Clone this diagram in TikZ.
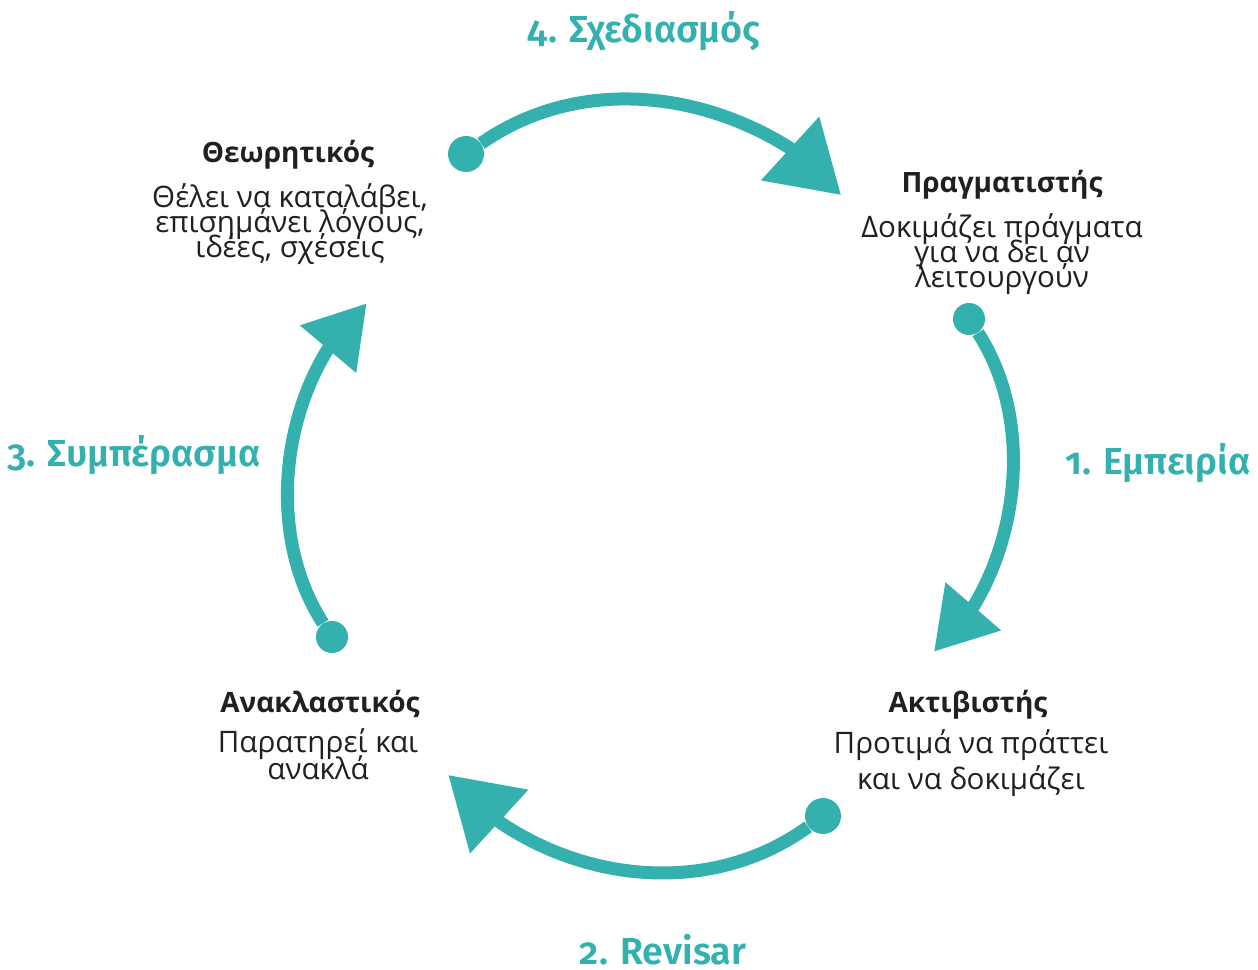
\documentclass[tikz,border=0pt]{standalone}
\usepackage{fontspec}
\setmainfont{Open Sans}
\newfontfamily\stagefont[Numbers=OldStyle]{Fira Sans SemiBold}
\usetikzlibrary{arrows.meta}

\newlength{\du}
\setlength{\du}{0.5pt}
\setlength{\lineskiplimit}{-50pt}

\definecolor{cyclecolor}{HTML}{34B0AF}
\definecolor{rolecolor}{HTML}{231F20}

\tikzset{
  flowline/.style={line width=6.5pt, draw=cyclecolor, line join=round, looseness=0.93},
  bigtip/.style={-{Triangle[length=34.5pt,width=41.5pt]}},
  smalltip/.style={-{Triangle[length=30pt,width=35pt]}},
  bigdot/.style={circle, fill=cyclecolor, inner sep=0pt, minimum size=18pt},
  smalldot/.style={circle, fill=cyclecolor, inner sep=0pt, minimum size=16pt},
  stagelabel/.style={anchor=base, inner sep=0pt, text=cyclecolor, font=\stagefont\fontsize{18.8}{22}\selectfont},
  roletitle/.style={anchor=base, inner sep=0pt, text=rolecolor, font=\bfseries\fontsize{14}{16}\selectfont},
  roletext/.style={anchor=base, inner sep=0pt, align=center, text=rolecolor, font=\fontsize{14.8}{12.5}\selectfont},
}

\begin{document}
\begin{tikzpicture}
\useasboundingbox (0\du,0\du) rectangle (1258\du,969\du);
% dots
\node[bigdot] (d1) at (466\du,815\du) {};
\node[smalldot] (d2) at (969\du,650\du) {};
\node[bigdot] (d3) at (823\du,153\du) {};
\node[smalldot] (d4) at (332\du,332\du) {};
% arrow heads
\coordinate (b1) at (789\du,821.5\du);
\coordinate (t1) at (841\du,774\du);
\coordinate (b2) at (974\du,363.5\du);
\coordinate (t2) at (934\du,317.3\du);
\coordinate (b3) at (500.2\du,146.5\du);
\coordinate (t3) at (448.3\du,194\du);
\coordinate (b4) at (327.3\du,619\du);
\coordinate (t4) at (366.7\du,665.7\du);
% cycle
\draw[flowline,bigtip] (d1) to[out=35,in=148] (b1) -- (t1);
\draw[flowline,smalltip,looseness=0.88] (d2) to[out=-57,in=59] (b2) -- (t2);
\draw[flowline,bigtip] (d3) to[out=216,in=326] (b3) -- (t3);
\draw[flowline,smalltip,looseness=0.88] (d4) to[out=123,in=238.5] (b4) -- (t4);
% stages
\node[stagelabel] (s4) at (644\du,926\du) {4. Σχεδιασμός};
\node[stagelabel] (s3) at (134\du,502\du) {3. Συμπέρασμα};
\node[stagelabel] (s1) at (1158\du,494\du) {1. Εμπειρία};
\node[stagelabel] (s2) at (663\du,4\du) {2. Revisar};
% roles (base = last line)
\node[roletitle] (theo) at (288\du,806\du) {Θεωρητικός};
\node[roletext] (theotxt) at (290\du,711\du) {Θέλει να καταλάβει,\\ επισημάνει λόγους,\\ ιδέες, σχέσεις};
\node[roletitle] (prag) at (1002\du,776\du) {Πραγματιστής};
\node[roletext] (pragtxt) at (1002\du,681\du) {Δοκιμάζει πράγματα\\ για να δει αν\\ λειτουργούν};
\node[roletitle] (akt) at (968\du,256\du) {Ακτιβιστής};
\node[roletext, font=\fontsize{14.8}{18}\selectfont] (akttxt) at (971\du,179\du) {Προτιμά να πράττει\\ και να δοκιμάζει};
\node[roletitle] (anak) at (320\du,256\du) {Ανακλαστικός};
\node[roletext, font=\fontsize{14.8}{13.5}\selectfont] (anaktxt) at (318\du,189\du) {Παρατηρεί και\\ ανακλά};
\end{tikzpicture}
\end{document}
